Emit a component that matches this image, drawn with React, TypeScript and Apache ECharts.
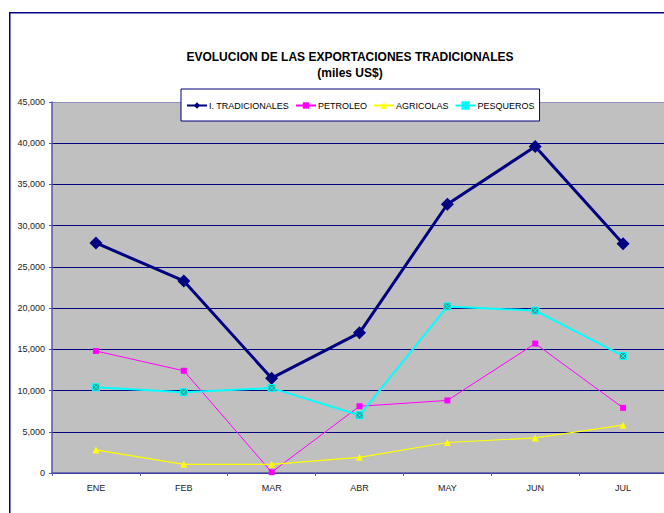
import React, { useEffect, useRef } from "react";
import * as echarts from "echarts";

const months = ["ENE", "FEB", "MAR", "ABR", "MAY", "JUN", "JUL"];
const tradicionales = [27900, 23300, 11500, 17000, 32600, 39600, 27800];
const petroleo = [14800, 12400, 100, 8100, 8800, 15700, 7900];
const agricolas = [2800, 1050, 1050, 1900, 3700, 4250, 5800];
const pesqueros = [10400, 9800, 10300, 7000, 20200, 19700, 14200];

const FONT = "Arial, 'Liberation Sans', sans-serif";
const NAVY = "#000080";
const SQX = "path://M0 0 L10 0 L10 10 L0 10 Z M0 0 L10 10 M10 0 L0 10";

export default function App() {
  const ref = useRef<HTMLDivElement>(null);
  useEffect(() => {
    if (!ref.current) return;
    const chart = echarts.init(ref.current, null, { renderer: "svg" });
    const gridColors = Array(9).fill(NAVY).concat(["#9090B8"]);
    chart.setOption({
      animation: false,
      backgroundColor: "#ffffff",
      textStyle: { fontFamily: FONT },
      title: {
        text: "EVOLUCION DE LAS EXPORTACIONES TRADICIONALES\n(miles US$)",
        left: "center",
        top: 44,
        textStyle: { fontFamily: FONT, fontSize: 12, fontWeight: "bold", color: "#000", lineHeight: 16 },
      },
      graphic: [
        {
          type: "rect",
          shape: { x: 9.75, y: 12.75, width: 720, height: 560 },
          style: { fill: "none", stroke: NAVY, lineWidth: 1.5 },
          z: 100,
        },
      ],
      legend: {
        left: 181,
        top: 89,
        backgroundColor: "#ffffff",
        borderColor: NAVY,
        borderWidth: 1,
        borderRadius: 0,
        padding: [12, 5, 11, 5],
        itemGap: 6,
        itemWidth: 20,
        itemHeight: 8,
        textStyle: { fontFamily: FONT, fontSize: 9, color: "#000", padding: [0, 0, 0, -3] },
        z: 10,
      },
      grid: { left: 52, top: 102, right: 33, bottom: 40, show: true, backgroundColor: "#C0C0C0", borderWidth: 0 },
      xAxis: {
        type: "category",
        data: months,
        boundaryGap: true,
        axisLine: { lineStyle: { color: "#5555AA", width: 1.5 } },
        axisTick: { show: true, length: 3, inside: false, lineStyle: { color: "#5555AA" } },
        axisLabel: { fontFamily: FONT, fontSize: 9, color: "#222", margin: 10 },
      },
      yAxis: {
        type: "value",
        min: 0,
        max: 45000,
        interval: 5000,
        axisLine: { show: true, lineStyle: { color: "#5555AA", width: 1.5 } },
        axisTick: { show: true, length: 3, lineStyle: { color: "#5555AA" } },
        axisLabel: {
          fontFamily: FONT,
          fontSize: 9,
          color: "#222",
          margin: 7,
          formatter: (v: number) => v.toLocaleString("en-US"),
        },
        splitLine: { show: true, lineStyle: { color: gridColors, width: 1 } },
      },
      series: [
        {
          name: "I. TRADICIONALES",
          type: "line",
          data: tradicionales,
          symbol: "diamond",
          symbolSize: 13,
          lineStyle: { color: NAVY, width: 3 },
          itemStyle: { color: NAVY },
        },
        {
          name: "PETROLEO",
          type: "line",
          data: petroleo,
          symbol: "rect",
          symbolSize: 6,
          lineStyle: { color: "#FF00FF", width: 1 },
          itemStyle: { color: "#FF00FF" },
        },
        {
          name: "AGRICOLAS",
          type: "line",
          data: agricolas,
          symbol: "triangle",
          symbolSize: 7,
          lineStyle: { color: "#FFFF00", width: 1.2 },
          itemStyle: { color: "#FFFF00" },
        },
        {
          name: "PESQUEROS",
          type: "line",
          data: pesqueros,
          symbol: SQX,
          symbolSize: 7,
          lineStyle: { color: "#00FFFF", width: 2 },
          itemStyle: { color: "#2E9C8C", borderColor: "#00FFFF", borderWidth: 1 },
        },
      ],
    });
    return () => chart.dispose();
  }, []);
  return (
    <div style={{ position: "fixed", left: 0, top: 0, width: 664, height: 513, overflow: "hidden", background: "#fff" }}>
      <div ref={ref} style={{ width: 700, height: 513 }} />
    </div>
  );
}
